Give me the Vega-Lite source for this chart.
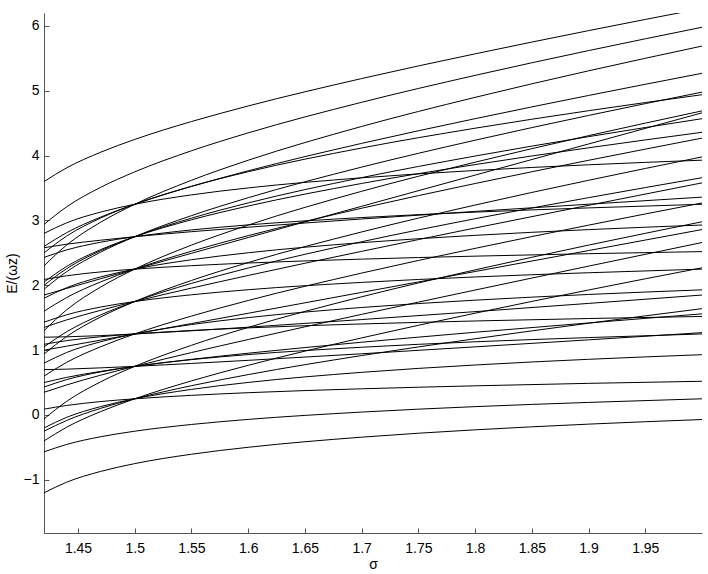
{"$schema":"https://vega.github.io/schema/vega-lite/v6.json","width":658,"height":520,"autosize":"none","padding":{"left":44,"top":13,"right":6,"bottom":41},"background":"white","config":{"view":{"stroke":null},"axis":{"domainColor":"#555555","tickColor":"#555555","tickSize":-5,"labelColor":"black","labelFont":"Liberation Sans","labelFontSize":14,"titleFont":"Liberation Sans","titleFontSize":14,"titleFontWeight":"normal","titleColor":"black","grid":false}},
"data":{"values":[
{"c":1,"s":1.42,"e":-1.2},{"c":1,"s":1.44,"e":-1.036},{"c":1,"s":1.47,"e":-0.87},{"c":1,"s":1.5,"e":-0.75},{"c":1,"s":1.55,"e":-0.605},{"c":1,"s":1.6,"e":-0.498},{"c":1,"s":1.7,"e":-0.342},{"c":1,"s":1.8,"e":-0.229},{"c":1,"s":1.9,"e":-0.141},{"c":1,"s":2.0,"e":-0.07},
{"c":2,"s":1.42,"e":-0.2},{"c":2,"s":1.44,"e":-0.036},{"c":2,"s":1.47,"e":0.13},{"c":2,"s":1.5,"e":0.25},{"c":2,"s":1.55,"e":0.395},{"c":2,"s":1.6,"e":0.502},{"c":2,"s":1.7,"e":0.658},{"c":2,"s":1.8,"e":0.771},{"c":2,"s":1.9,"e":0.859},{"c":2,"s":2.0,"e":0.93},
{"c":3,"s":1.42,"e":0.8},{"c":3,"s":1.44,"e":0.964},{"c":3,"s":1.47,"e":1.13},{"c":3,"s":1.5,"e":1.25},{"c":3,"s":1.55,"e":1.395},{"c":3,"s":1.6,"e":1.502},{"c":3,"s":1.7,"e":1.658},{"c":3,"s":1.8,"e":1.771},{"c":3,"s":1.9,"e":1.859},{"c":3,"s":2.0,"e":1.93},
{"c":4,"s":1.42,"e":1.8},{"c":4,"s":1.44,"e":1.964},{"c":4,"s":1.47,"e":2.13},{"c":4,"s":1.5,"e":2.25},{"c":4,"s":1.55,"e":2.395},{"c":4,"s":1.6,"e":2.502},{"c":4,"s":1.7,"e":2.658},{"c":4,"s":1.8,"e":2.771},{"c":4,"s":1.9,"e":2.859},{"c":4,"s":2.0,"e":2.93},
{"c":5,"s":1.42,"e":2.8},{"c":5,"s":1.44,"e":2.964},{"c":5,"s":1.47,"e":3.13},{"c":5,"s":1.5,"e":3.25},{"c":5,"s":1.55,"e":3.395},{"c":5,"s":1.6,"e":3.502},{"c":5,"s":1.7,"e":3.658},{"c":5,"s":1.8,"e":3.771},{"c":5,"s":1.9,"e":3.859},{"c":5,"s":2.0,"e":3.93},
{"c":6,"s":1.42,"e":-0.569},{"c":6,"s":1.44,"e":-0.454},{"c":6,"s":1.47,"e":-0.335},{"c":6,"s":1.5,"e":-0.25},{"c":6,"s":1.55,"e":-0.146},{"c":6,"s":1.6,"e":-0.068},{"c":6,"s":1.7,"e":0.045},{"c":6,"s":1.8,"e":0.129},{"c":6,"s":1.9,"e":0.194},{"c":6,"s":2.0,"e":0.25},
{"c":7,"s":1.42,"e":0.431},{"c":7,"s":1.44,"e":0.546},{"c":7,"s":1.47,"e":0.665},{"c":7,"s":1.5,"e":0.75},{"c":7,"s":1.55,"e":0.854},{"c":7,"s":1.6,"e":0.932},{"c":7,"s":1.7,"e":1.045},{"c":7,"s":1.8,"e":1.129},{"c":7,"s":1.9,"e":1.194},{"c":7,"s":2.0,"e":1.25},
{"c":8,"s":1.42,"e":1.431},{"c":8,"s":1.44,"e":1.546},{"c":8,"s":1.47,"e":1.665},{"c":8,"s":1.5,"e":1.75},{"c":8,"s":1.55,"e":1.854},{"c":8,"s":1.6,"e":1.932},{"c":8,"s":1.7,"e":2.045},{"c":8,"s":1.8,"e":2.129},{"c":8,"s":1.9,"e":2.194},{"c":8,"s":2.0,"e":2.25},
{"c":9,"s":1.42,"e":2.431},{"c":9,"s":1.44,"e":2.546},{"c":9,"s":1.47,"e":2.665},{"c":9,"s":1.5,"e":2.75},{"c":9,"s":1.55,"e":2.854},{"c":9,"s":1.6,"e":2.932},{"c":9,"s":1.7,"e":3.045},{"c":9,"s":1.8,"e":3.129},{"c":9,"s":1.9,"e":3.194},{"c":9,"s":2.0,"e":3.25},
{"c":10,"s":1.42,"e":0.09},{"c":10,"s":1.44,"e":0.147},{"c":10,"s":1.47,"e":0.207},{"c":10,"s":1.5,"e":0.25},{"c":10,"s":1.55,"e":0.303},{"c":10,"s":1.6,"e":0.344},{"c":10,"s":1.7,"e":0.404},{"c":10,"s":1.8,"e":0.45},{"c":10,"s":1.9,"e":0.488},{"c":10,"s":2.0,"e":0.52},
{"c":11,"s":1.42,"e":1.09},{"c":11,"s":1.44,"e":1.147},{"c":11,"s":1.47,"e":1.207},{"c":11,"s":1.5,"e":1.25},{"c":11,"s":1.55,"e":1.303},{"c":11,"s":1.6,"e":1.344},{"c":11,"s":1.7,"e":1.404},{"c":11,"s":1.8,"e":1.45},{"c":11,"s":1.9,"e":1.488},{"c":11,"s":2.0,"e":1.52},
{"c":12,"s":1.42,"e":2.09},{"c":12,"s":1.44,"e":2.147},{"c":12,"s":1.47,"e":2.207},{"c":12,"s":1.5,"e":2.25},{"c":12,"s":1.55,"e":2.303},{"c":12,"s":1.6,"e":2.344},{"c":12,"s":1.7,"e":2.404},{"c":12,"s":1.8,"e":2.45},{"c":12,"s":1.9,"e":2.488},{"c":12,"s":2.0,"e":2.52},
{"c":13,"s":1.42,"e":-0.4},{"c":13,"s":1.44,"e":-0.188},{"c":13,"s":1.47,"e":0.053},{"c":13,"s":1.5,"e":0.25},{"c":13,"s":1.55,"e":0.526},{"c":13,"s":1.6,"e":0.766},{"c":13,"s":1.7,"e":1.189},{"c":13,"s":1.8,"e":1.57},{"c":13,"s":1.9,"e":1.928},{"c":13,"s":2.0,"e":2.27},
{"c":14,"s":1.42,"e":0.6},{"c":14,"s":1.44,"e":0.812},{"c":14,"s":1.47,"e":1.053},{"c":14,"s":1.5,"e":1.25},{"c":14,"s":1.55,"e":1.526},{"c":14,"s":1.6,"e":1.766},{"c":14,"s":1.7,"e":2.189},{"c":14,"s":1.8,"e":2.57},{"c":14,"s":1.9,"e":2.928},{"c":14,"s":2.0,"e":3.27},
{"c":15,"s":1.42,"e":1.6},{"c":15,"s":1.44,"e":1.812},{"c":15,"s":1.47,"e":2.053},{"c":15,"s":1.5,"e":2.25},{"c":15,"s":1.55,"e":2.526},{"c":15,"s":1.6,"e":2.766},{"c":15,"s":1.7,"e":3.189},{"c":15,"s":1.8,"e":3.57},{"c":15,"s":1.9,"e":3.928},{"c":15,"s":2.0,"e":4.27},
{"c":16,"s":1.42,"e":2.6},{"c":16,"s":1.44,"e":2.812},{"c":16,"s":1.47,"e":3.053},{"c":16,"s":1.5,"e":3.25},{"c":16,"s":1.55,"e":3.526},{"c":16,"s":1.6,"e":3.766},{"c":16,"s":1.7,"e":4.189},{"c":16,"s":1.8,"e":4.57},{"c":16,"s":1.9,"e":4.928},{"c":16,"s":2.0,"e":5.27},
{"c":17,"s":1.42,"e":3.6},{"c":17,"s":1.44,"e":3.812},{"c":17,"s":1.47,"e":4.053},{"c":17,"s":1.5,"e":4.25},{"c":17,"s":1.55,"e":4.526},{"c":17,"s":1.6,"e":4.766},{"c":17,"s":1.7,"e":5.189},{"c":17,"s":1.8,"e":5.57},{"c":17,"s":1.9,"e":5.928},{"c":17,"s":2.0,"e":6.27},
{"c":18,"s":1.42,"e":-0.06},{"c":18,"s":1.44,"e":0.211},{"c":18,"s":1.47,"e":0.512},{"c":18,"s":1.5,"e":0.75},{"c":18,"s":1.55,"e":1.075},{"c":18,"s":1.6,"e":1.351},{"c":18,"s":1.7,"e":1.823},{"c":18,"s":1.8,"e":2.238},{"c":18,"s":1.9,"e":2.62},{"c":18,"s":2.0,"e":2.98},
{"c":19,"s":1.42,"e":0.94},{"c":19,"s":1.44,"e":1.211},{"c":19,"s":1.47,"e":1.512},{"c":19,"s":1.5,"e":1.75},{"c":19,"s":1.55,"e":2.075},{"c":19,"s":1.6,"e":2.351},{"c":19,"s":1.7,"e":2.823},{"c":19,"s":1.8,"e":3.238},{"c":19,"s":1.9,"e":3.62},{"c":19,"s":2.0,"e":3.98},
{"c":20,"s":1.42,"e":1.94},{"c":20,"s":1.44,"e":2.211},{"c":20,"s":1.47,"e":2.512},{"c":20,"s":1.5,"e":2.75},{"c":20,"s":1.55,"e":3.075},{"c":20,"s":1.6,"e":3.351},{"c":20,"s":1.7,"e":3.823},{"c":20,"s":1.8,"e":4.238},{"c":20,"s":1.9,"e":4.62},{"c":20,"s":2.0,"e":4.98},
{"c":21,"s":1.42,"e":2.94},{"c":21,"s":1.44,"e":3.211},{"c":21,"s":1.47,"e":3.512},{"c":21,"s":1.5,"e":3.75},{"c":21,"s":1.55,"e":4.075},{"c":21,"s":1.6,"e":4.351},{"c":21,"s":1.7,"e":4.823},{"c":21,"s":1.8,"e":5.238},{"c":21,"s":1.9,"e":5.62},{"c":21,"s":2.0,"e":5.98},
{"c":22,"s":1.42,"e":-0.25},{"c":22,"s":1.44,"e":-0.084},{"c":22,"s":1.47,"e":0.103},{"c":22,"s":1.5,"e":0.25},{"c":22,"s":1.55,"e":0.452},{"c":22,"s":1.6,"e":0.623},{"c":22,"s":1.7,"e":0.917},{"c":22,"s":1.8,"e":1.176},{"c":22,"s":1.9,"e":1.415},{"c":22,"s":2.0,"e":1.64},
{"c":23,"s":1.42,"e":0.35},{"c":23,"s":1.44,"e":0.464},{"c":23,"s":1.47,"e":0.614},{"c":23,"s":1.5,"e":0.75},{"c":23,"s":1.55,"e":0.963},{"c":23,"s":1.6,"e":1.164},{"c":23,"s":1.7,"e":1.552},{"c":23,"s":1.8,"e":1.927},{"c":23,"s":1.9,"e":2.296},{"c":23,"s":2.0,"e":2.66},
{"c":24,"s":1.42,"e":0.5},{"c":24,"s":1.44,"e":0.58},{"c":24,"s":1.47,"e":0.673},{"c":24,"s":1.5,"e":0.75},{"c":24,"s":1.55,"e":0.858},{"c":24,"s":1.6,"e":0.953},{"c":24,"s":1.7,"e":1.122},{"c":24,"s":1.8,"e":1.276},{"c":24,"s":1.9,"e":1.42},{"c":24,"s":2.0,"e":1.56},
{"c":25,"s":1.42,"e":0.7},{"c":25,"s":1.44,"e":0.707},{"c":25,"s":1.47,"e":0.727},{"c":25,"s":1.5,"e":0.75},{"c":25,"s":1.55,"e":0.795},{"c":25,"s":1.6,"e":0.843},{"c":25,"s":1.7,"e":0.944},{"c":25,"s":1.8,"e":1.051},{"c":25,"s":1.9,"e":1.159},{"c":25,"s":2.0,"e":1.27},
{"c":26,"s":1.42,"e":1.0},{"c":26,"s":1.44,"e":1.061},{"c":26,"s":1.47,"e":1.155},{"c":26,"s":1.5,"e":1.25},{"c":26,"s":1.55,"e":1.41},{"c":26,"s":1.6,"e":1.569},{"c":26,"s":1.7,"e":1.891},{"c":26,"s":1.8,"e":2.213},{"c":26,"s":1.9,"e":2.536},{"c":26,"s":2.0,"e":2.86},
{"c":27,"s":1.42,"e":1.05},{"c":27,"s":1.44,"e":1.284},{"c":27,"s":1.47,"e":1.544},{"c":27,"s":1.5,"e":1.75},{"c":27,"s":1.55,"e":2.03},{"c":27,"s":1.6,"e":2.267},{"c":27,"s":1.7,"e":2.672},{"c":27,"s":1.8,"e":3.027},{"c":27,"s":1.9,"e":3.352},{"c":27,"s":2.0,"e":3.66},
{"c":28,"s":1.42,"e":1.2},{"c":28,"s":1.44,"e":1.206},{"c":28,"s":1.47,"e":1.224},{"c":28,"s":1.5,"e":1.25},{"c":28,"s":1.55,"e":1.299},{"c":28,"s":1.6,"e":1.354},{"c":28,"s":1.7,"e":1.472},{"c":28,"s":1.8,"e":1.594},{"c":28,"s":1.9,"e":1.721},{"c":28,"s":2.0,"e":1.85},
{"c":29,"s":1.42,"e":1.3},{"c":29,"s":1.44,"e":1.622},{"c":29,"s":1.47,"e":1.974},{"c":29,"s":1.5,"e":2.25},{"c":29,"s":1.55,"e":2.62},{"c":29,"s":1.6,"e":2.929},{"c":29,"s":1.7,"e":3.45},{"c":29,"s":1.8,"e":3.899},{"c":29,"s":1.9,"e":4.308},{"c":29,"s":2.0,"e":4.69},
{"c":30,"s":1.42,"e":1.35},{"c":30,"s":1.44,"e":1.467},{"c":30,"s":1.47,"e":1.615},{"c":30,"s":1.5,"e":1.75},{"c":30,"s":1.55,"e":1.957},{"c":30,"s":1.6,"e":2.152},{"c":30,"s":1.7,"e":2.524},{"c":30,"s":1.8,"e":2.884},{"c":30,"s":1.9,"e":3.234},{"c":30,"s":2.0,"e":3.58},
{"c":31,"s":1.42,"e":2.0},{"c":31,"s":1.44,"e":2.257},{"c":31,"s":1.47,"e":2.535},{"c":31,"s":1.5,"e":2.75},{"c":31,"s":1.55,"e":3.036},{"c":31,"s":1.6,"e":3.271},{"c":31,"s":1.7,"e":3.661},{"c":31,"s":1.8,"e":3.994},{"c":31,"s":1.9,"e":4.293},{"c":31,"s":2.0,"e":4.57},
{"c":32,"s":1.42,"e":2.3},{"c":32,"s":1.44,"e":2.622},{"c":32,"s":1.47,"e":2.974},{"c":32,"s":1.5,"e":3.25},{"c":32,"s":1.55,"e":3.62},{"c":32,"s":1.6,"e":3.929},{"c":32,"s":1.7,"e":4.45},{"c":32,"s":1.8,"e":4.899},{"c":32,"s":1.9,"e":5.308},{"c":32,"s":2.0,"e":5.69},
{"c":33,"s":1.42,"e":2.58},{"c":33,"s":1.44,"e":2.634},{"c":33,"s":1.47,"e":2.696},{"c":33,"s":1.5,"e":2.75},{"c":33,"s":1.55,"e":2.827},{"c":33,"s":1.6,"e":2.896},{"c":33,"s":1.7,"e":3.023},{"c":33,"s":1.8,"e":3.14},{"c":33,"s":1.9,"e":3.251},{"c":33,"s":2.0,"e":3.36},
{"c":34,"s":1.42,"e":1.85},{"c":34,"s":1.44,"e":1.952},{"c":34,"s":1.47,"e":2.102},{"c":34,"s":1.5,"e":2.25},{"c":34,"s":1.55,"e":2.494},{"c":34,"s":1.6,"e":2.737},{"c":34,"s":1.7,"e":3.219},{"c":34,"s":1.8,"e":3.7},{"c":34,"s":1.9,"e":4.18},{"c":34,"s":2.0,"e":4.66},
{"c":35,"s":1.42,"e":2.05},{"c":35,"s":1.44,"e":2.292},{"c":35,"s":1.47,"e":2.551},{"c":35,"s":1.5,"e":2.75},{"c":35,"s":1.55,"e":3.011},{"c":35,"s":1.6,"e":3.223},{"c":35,"s":1.7,"e":3.571},{"c":35,"s":1.8,"e":3.862},{"c":35,"s":1.9,"e":4.121},{"c":35,"s":2.0,"e":4.36},
{"c":36,"s":1.42,"e":2.5},{"c":36,"s":1.44,"e":2.76},{"c":36,"s":1.47,"e":3.038},{"c":36,"s":1.5,"e":3.25},{"c":36,"s":1.55,"e":3.527},{"c":36,"s":1.6,"e":3.752},{"c":36,"s":1.7,"e":4.118},{"c":36,"s":1.8,"e":4.423},{"c":36,"s":1.9,"e":4.693},{"c":36,"s":2.0,"e":4.94}
]},
"mark":{"type":"line","color":"black","strokeWidth":1,"interpolate":"monotone","clip":true},
"encoding":{
"x":{"field":"s","type":"quantitative","scale":{"domain":[1.42,2.0],"nice":false,"zero":false},"axis":{"values":[1.45,1.5,1.55,1.6,1.65,1.7,1.75,1.8,1.85,1.9,1.95],"format":".2~f","title":"σ","labelPadding":13,"titlePadding":2,"labelFlush":false}},
"y":{"field":"e","type":"quantitative","scale":{"domain":[-1.82,6.2],"nice":false,"zero":false},"axis":{"values":[-1,0,1,2,3,4,5,6],"title":"E/(ωz)","labelPadding":10,"titlePadding":4,"labelFlush":false}},
"detail":{"field":"c","type":"nominal"}
}}
